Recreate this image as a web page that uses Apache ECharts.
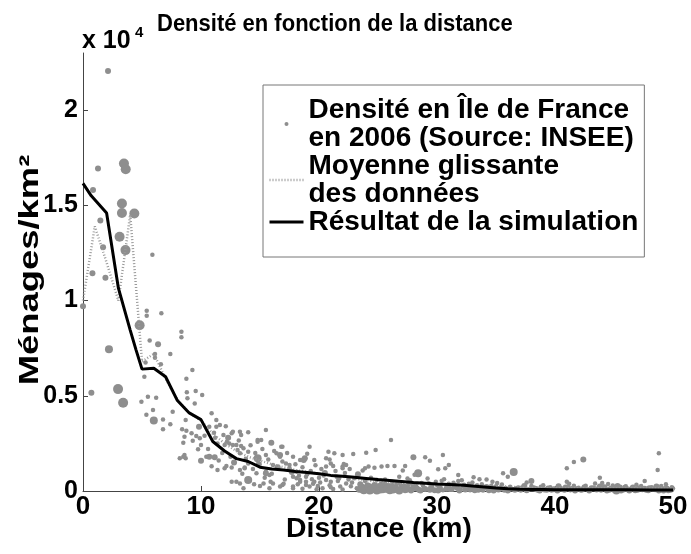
<!DOCTYPE html>
<html>
<head>
<meta charset="utf-8">
<script src="https://cdn.jsdelivr.net/npm/echarts@6/dist/echarts.min.js"></script>
<style>html,body{margin:0;padding:0;background:#fff}#c{width:691px;height:554px}</style>
</head>
<body>
<div id="c"></div>
<script>
// ---- data ----
const titleText = 'Densité en fonction de la distance';
const xAxisTitle = 'Distance (km)';
const yAxisTitle = 'Ménages/km²';
const xTicks = [0, 10, 20, 30, 40, 50];
const yTicks = [0, 5000, 10000, 15000, 20000];
const seriesNames = ['Densité en Île de France\nen 2006 (Source: INSEE)', 'Moyenne glissante\ndes données', 'Résultat de la simulation'];

// [distance km, ménages/km², weight class 1..4]
const communesCentre = [
  [0.0,9700,2],[0.71,5160,2],[0.8,11430,2],[0.85,15800,2],[1.27,16940,2],[1.47,14200,2],[1.7,12800,2],[1.9,11200,2],
  [2.12,22060,2],[2.2,7450,3],[2.97,5350,4],[3.1,13350,4],[3.3,15100,4],[3.3,14600,4],[3.4,4630,4],[3.47,17200,4],
  [3.62,16900,4],[3.6,12650,4],[4.35,14570,4],[4.8,8700,4],[4.95,4690,1],[5.2,6000,1],[5.3,6750,1],[5.37,4000,1],
  [5.4,9460,1],[5.4,9200,1],[5.5,4950,1],[5.65,7900,1],[5.88,12400,1],[5.93,4250,1],[6.0,3700,3],[6.1,7200,1],
  [6.1,7000,1],[6.2,4900,1],[6.36,7700,2],[6.6,6650,1],[6.64,9330,1],[6.78,3760,1],[6.78,3240,1],[7.4,7200,1],
  [7.4,3500,1],[7.6,4160,1],[8.2,1720,1],[8.34,8360,1],[8.34,8070,1],[8.4,3240,1],[8.5,2540,1],[8.5,1800,1],
  [8.6,2850,1],[8.6,1890,1],[8.7,3730,1],[8.7,1720,1],[8.76,5900,1],[8.76,3170,1],[8.8,5180,1],[8.85,4870,1],
  [9.2,3030,1],[9.27,6350,1],[9.3,2640,1],[9.47,4600,1],[9.55,5250,1],[9.6,2890,1],[9.75,2190,1],[9.83,3380,2],
  [9.9,2770,1],[10.0,2410,1],[10.0,1590,2],[10.1,5040,1]
];
const communesPetiteCouronne = [
  [10.45,1800,1],[10.7,3380,1],[10.7,1800,2],[10.9,4080,1],[11.1,3060,1],[11.16,1770,2],[11.3,3730,1],[11.3,3380,1],
  [11.4,2500,1],[11.4,1100,1],[11.6,3460,1],[11.9,2940,1],[12.0,2410,1],[12.0,1190,1],[12.15,1310,1],[12.2,2590,1],
  [12.3,2800,2],[12.4,2500,1],[12.6,3030,1],[12.6,1240,1],[12.6,490,1],[12.7,3110,1],[12.7,2410,1],[13.0,2410,1],
  [13.0,490,1],[13.1,2150,1],[13.3,3110,1],[13.3,1980,1],[13.3,1100,1],[13.3,400,1],[13.4,2940,1],[13.4,2360,1],
  [13.6,2240,1],[13.6,140,1],[13.7,1240,1],[13.7,1190,1],[14.0,3080,1],[14.0,2060,1],[14.0,1450,1],[14.0,580,3],
  [14.7,930,1],[14.8,2680,1],[14.8,2590,1],[14.8,1720,3],[15.0,260,1],[15.1,2680,1],[15.3,400,1],[15.5,3200,1],
  [15.5,1890,1],[15.5,1010,1],[15.5,930,2],[15.8,840,1],[15.8,140,1],[15.96,2540,2],[16.1,1360,1],[16.1,400,1],
  [16.4,1980,1],[16.7,1890,2],[16.7,1800,1],[16.7,230,1],[16.8,2330,1],[16.9,2330,1],[16.9,310,1],[17.2,1450,1],
  [17.5,1360,1],[17.5,1190,1],[17.8,1800,1],[17.8,750,1],[17.8,230,1],[17.8,140,1],[18.1,1010,1],[18.1,670,1],
  [18.4,1630,1],[18.4,580,1],[18.4,490,1],[18.7,1630,2],[18.8,1720,2],[18.9,750,1],[18.9,490,1],[18.9,310,1],
  [19.2,2330,1],[19.2,230,1],[19.6,1630,1],[19.6,490,1],[19.9,260,1],[20.3,140,1],[20.6,1720,1],[20.6,1280,1],
  [20.6,580,1],[20.8,2060,1],[21.0,1450,1],[21.0,490,1],[21.2,1310,1],[21.3,1980,1],[21.5,750,1],[21.8,230,1],
  [22.0,1890,1],[22.0,1190,1],[22.0,1280,1],[22.1,1420,1],[22.3,1360,1],[22.3,400,1],[22.9,1940,1],[23.0,670,1],
  [23.2,140,1],[23.3,880,2],[18.2,350,1],[18.6,120,1],[19.0,880,1],[19.4,620,1],[19.8,90,1],[20.1,450,1],
  [20.4,820,1],[20.9,300,1],[21.2,110,1],[21.6,520,1],[22.0,80,1],[22.5,610,1],[22.7,250,1],
  [10.3,2900,1],[10.6,2200,1],[10.9,1300,1],[11.2,2800,1],[11.5,1600,1],[11.8,2000,1],[12.1,3400,1],[12.5,1800,1],
  [12.8,1500,2],[13.2,2650,1],[13.5,900,1],[13.8,1700,1],[14.2,2400,1],[14.4,1150,1],[14.6,2000,1],[14.9,1400,2],
  [15.2,2200,1],[15.4,700,1],[15.7,1650,1],[16.0,900,1],[16.2,2100,1],[16.5,1250,2],[16.9,1550,1],[17.1,600,1],
  [17.3,2000,1],[17.7,1000,2],[18.0,1400,1],[18.3,800,1],[18.6,1250,1],[19.0,1950,1],[19.3,1050,1],[19.7,1350,1],
  [20.0,700,1],[20.2,1150,1],[20.5,950,2],[20.9,1650,1],[21.4,1050,1],[21.7,650,1],[22.2,950,1],[22.6,1150,1],
  [22.8,450,1],[17.0,380,1],[15.9,480,1],[14.5,350,1],[19.5,380,1],[21.0,200,1]
];
const communesGrandeCouronne = [
  [23.7,1070,1],[23.9,1190,1],[24.0,2010,1],[24.2,1280,1],[24.7,1220,1],[24.8,2150,1],[25.3,1280,1],[25.8,1310,1],
  [26.1,2680,1],[26.4,1310,1],[27.1,1070,1],[27.3,1310,1],[28.0,1770,2],[28.4,930,3],[29.0,1770,1],[29.4,1590,1],
  [30.1,1140,1],[30.5,1890,1],[30.7,1190,1],[31.0,1360,1],[31.8,840,1],[33.1,720,1],[34.2,610,1],[35.6,930,1],
  [36.0,750,1],[36.5,1000,3],[37.6,440,1],[38.0,520,2],[41.0,1190,1],[41.0,490,1],[41.6,1520,1],[42.4,1660,2],
  [43.4,400,1],[43.8,700,1],[44.5,370,1],[45.3,260,2],[47.6,520,1],[48.7,1100,1],[48.8,1980,1],
  [23.4,60,2],[23.6,180,3],[23.8,40,3],[24.0,120,3],[24.1,300,2],[24.3,20,3],[24.5,150,3],[24.6,60,2],
  [24.8,240,2],[25.0,90,3],[25.2,30,2],[25.3,400,1],[25.5,170,2],[25.7,60,2],[25.9,260,2],[26.1,110,3],
  [26.3,30,2],[26.5,200,2],[26.7,80,2],[26.9,330,1],[27.0,150,2],[23.9,520,1],[24.4,700,1],[25.6,600,1],
  [26.2,480,1],[26.8,750,1],
  [27.3,40,2],[27.5,230,1],[27.7,560,1],[27.9,110,2],[28.2,300,1],[28.5,50,2],[28.7,420,1],[28.9,170,1],
  [29.2,660,1],[29.4,70,2],[29.6,280,1],[29.9,480,1],[30.1,30,2],[30.3,200,1],[30.6,620,1],[30.8,120,2],
  [31.0,380,1],[31.3,60,1],[31.5,250,2],[31.8,520,1],[32.0,90,1],[32.3,330,1],[32.5,160,2],[32.8,40,1],
  [33.0,450,1],[33.3,210,1],[33.5,60,2],[33.8,350,1],[34.0,130,1],[34.4,40,2],[34.6,270,1],[34.9,90,1],
  [35.1,420,1],[35.4,150,2],[35.7,30,1],[36.2,220,1],
  [23.5,350,2],[23.7,90,3],[24.2,210,3],[24.4,70,3],[24.7,320,2],[24.9,30,3],[25.1,210,3],[25.4,90,3],
  [25.6,330,2],[25.8,130,3],[26.0,40,3],[26.2,260,2],[26.4,100,3],[26.6,380,1],[26.8,20,3],[27.2,230,2],
  [27.4,120,3],[27.6,350,1],[27.8,20,2],[28.0,260,2],[28.3,130,2],[28.6,20,2],[28.8,290,1],[29.0,100,2],
  [29.3,410,1],[29.5,180,2],[29.8,40,2],[30.0,320,1],[30.2,130,2],[30.5,40,1],[30.9,250,2],[31.1,100,2],
  [31.4,430,1],[31.7,170,2],[31.9,20,2],[32.2,250,1],[32.4,80,2],[32.7,380,1],[32.9,190,2],[33.2,40,2],
  [33.4,300,1],[33.7,130,2],[33.9,30,1],[34.2,210,2],[34.5,110,1],[34.8,20,2],[35.0,250,1],[35.2,80,2],
  [35.5,340,1],[35.8,120,2],[36.0,30,2],[36.3,100,1],[24.9,580,1],[27.5,650,1],[30.4,540,1],[32.1,560,1],
  [34.7,480,1],[28.1,850,1],[33.6,620,1]
];
const communesPeriurbaines = [
  [36.6,60,2],[36.9,190,1],[37.1,30,1],[37.4,260,2],[37.8,90,1],[38.2,150,2],[38.5,30,1],[38.8,220,1],
  [39.1,80,2],[39.4,170,1],[39.7,20,1],[40.0,120,1],[40.3,250,2],[40.6,60,1],[40.9,180,2],[41.3,40,1],
  [41.6,270,1],[41.9,110,2],[42.2,30,1],[42.5,200,2],[42.8,80,1],[43.1,150,2],[43.5,40,1],[43.8,230,2],
  [44.1,100,1],[44.4,20,2],[44.7,160,1],[45.0,60,2],[45.3,120,3],[45.6,30,2],[45.9,210,1],[46.2,80,2],
  [46.5,150,1],[46.8,40,2],[47.1,190,1],[47.4,90,2],[47.7,20,1],[48.0,140,2],[48.3,60,1],[48.6,230,2],
  [48.9,100,1],[49.2,30,2],[49.5,170,1],[49.8,70,2],[50.0,130,1],
  [36.8,120,2],[37.2,180,1],[37.6,40,2],[38.0,260,1],[38.4,100,2],[38.7,20,2],[39.0,300,1],[39.3,60,2],
  [39.6,200,1],[39.9,90,2],[40.2,30,2],[40.5,160,1],[40.8,60,2],[41.1,240,1],[41.4,110,2],[41.7,20,2],
  [42.0,170,1],[42.3,80,2],[42.6,280,1],[42.9,30,2],[43.3,190,1],[43.6,90,2],[43.9,20,1],[44.2,200,2],
  [44.6,70,2],[44.9,290,1],[45.2,20,3],[45.5,180,2],[45.8,80,2],[46.0,250,1],[46.3,30,2],[46.6,190,2],
  [47.0,70,2],[47.3,260,1],[47.6,120,2],[47.9,40,2],[48.2,200,1],[48.5,90,2],[48.8,30,2],[49.0,260,1],
  [49.3,110,2],[49.6,40,2],[49.9,200,1],[41.2,380,1],[44.0,420,1],[46.9,330,1],[49.4,350,1]
];
const movingAvgKm  = [0,1,2,3,4,5,6,7,8,9,10,11,12,13,14,15,16,17,18,19,20,21,22,23,24,25,26,27,28,29,30,31,32,33,34,35,36,37,38,39,40,42,44,46,48,50];
const movingAvgVal = [10000,13900,12000,10000,14500,6800,7200,5900,4800,4100,3700,3000,2500,2100,1800,1600,1400,1250,1100,1000,900,820,750,650,560,480,450,420,400,380,360,340,300,270,240,220,240,190,170,150,140,140,130,130,150,130];
const simKm  = [0,0.7,2,3,4,4.5,5,6,7,8,9,10,11,12,13,14,15,16,17,18,19,20,21,22,23,24,25,26,27,28,29,30,31,32,33,34,35,36,37,38,39,40,42,44,46,48,50];
const simVal = [16150,15500,14600,10650,8450,7400,6400,6450,6000,4750,4100,3750,2600,2100,1700,1550,1250,1150,1100,1030,970,900,820,770,720,660,600,550,500,450,410,370,340,310,260,210,160,120,90,80,80,70,70,60,60,50,50];

// ---- chart ----
const FONT = 'Liberation Sans, Arial, Helvetica, sans-serif';
const weightSize = {1: 4.5, 2: 6, 3: 8, 4: 10};
const scatterData = communesCentre.concat(communesPetiteCouronne, communesGrandeCouronne, communesPeriurbaines);
const chart = echarts.init(document.getElementById('c'), null, {renderer: 'canvas'});
chart.setOption({
  animation: false,
  backgroundColor: '#fff',
  grid: {left: 83, right: 18, top: 53, bottom: 63, outerBoundsMode: 'none'},
  legend: {
    orient: 'vertical', left: 263, top: 85,
    padding: [11, 6, 21, 5], itemGap: 0, itemWidth: 34, itemHeight: 4,
    borderColor: '#777', borderWidth: 1, backgroundColor: '#fff',
    textStyle: {fontFamily: FONT, fontSize: 28, fontWeight: 'bold', color: '#000', lineHeight: 28},
    data: [
      {name: seriesNames[0], icon: 'circle'},
      {name: seriesNames[1], lineStyle: {width: 2.5}, itemStyle: {opacity: 0}},
      {name: seriesNames[2], lineStyle: {width: 3}, itemStyle: {opacity: 0}}
    ]
  },
  xAxis: {
    type: 'value', min: 0, max: 50, interval: 10,
    axisLine: {show: true, lineStyle: {color: '#444', width: 1}},
    axisTick: {show: true, inside: true, length: 5, lineStyle: {color: '#444'}, customValues: xTicks},
    axisLabel: {fontFamily: FONT, fontSize: 26, fontWeight: 'bold', color: '#000', margin: 3, customValues: xTicks},
    splitLine: {show: false}
  },
  yAxis: {
    type: 'value', min: 0, max: 23000, interval: 5000,
    axisLine: {show: true, lineStyle: {color: '#444', width: 1}},
    axisTick: {show: true, inside: true, length: 5, lineStyle: {color: '#444'}, customValues: yTicks},
    axisLabel: {fontFamily: FONT, fontSize: 25, fontWeight: 'bold', color: '#000', margin: 5, customValues: yTicks,
      formatter: v => String(v / 10000)},
    splitLine: {show: false}
  },
  graphic: [
    {type: 'text', x: 157, y: 24, scaleY: 1.1,
      style: {text: titleText, font: 'bold 22px ' + FONT, fill: '#000', align: 'left', verticalAlign: 'middle'}},
    {type: 'text', left: 82, top: 29, style: {text: 'x 10', font: 'bold 25px ' + FONT, fill: '#000'}},
    {type: 'text', left: 135, top: 25, style: {text: '4', font: 'bold 15px ' + FONT, fill: '#000'}},
    {type: 'text', x: 30, y: 270, rotation: Math.PI / 2, scaleX: 1.3,
      style: {text: yAxisTitle, font: 'bold 28px ' + FONT, fill: '#000', align: 'center', verticalAlign: 'middle'}},
    {type: 'text', x: 379, y: 530, scaleX: 1.05,
      style: {text: xAxisTitle, font: 'bold 27px ' + FONT, fill: '#000', align: 'center', verticalAlign: 'middle'}}
  ],
  series: [
    {
      name: seriesNames[0], type: 'scatter', data: scatterData,
      symbol: 'circle', symbolSize: (v) => weightSize[v[2]],
      itemStyle: {color: '#8e8e8e', opacity: 1}, z: 2
    },
    {
      name: seriesNames[1], type: 'line', data: movingAvgKm.map((k, i) => [k, movingAvgVal[i]]),
      symbol: 'none', lineStyle: {color: '#9a9a9a', width: 2.5, type: [1, 2]}, itemStyle: {color: '#9a9a9a'}, z: 3
    },
    {
      name: seriesNames[2], type: 'line', data: simKm.map((k, i) => [k, simVal[i]]),
      symbol: 'none', lineStyle: {color: '#000', width: 3}, itemStyle: {color: '#000'}, z: 4
    }
  ]
});
</script>
</body>
</html>
